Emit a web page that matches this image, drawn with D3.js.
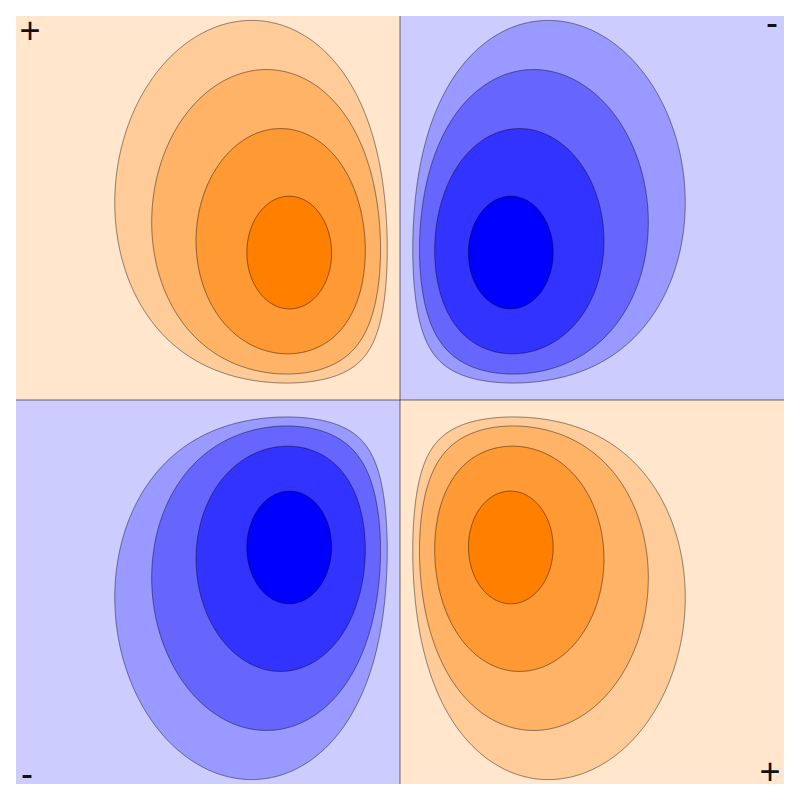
<!DOCTYPE html>
<html lang="en">
<head>
<meta charset="utf-8">
<title>Four-lobe contour map</title>
<style>
  body { margin: 0; background: #fff; }
  svg { display: block; }
  .sign { font-family: "Liberation Sans", Arial, sans-serif; font-size: 36px; fill: #111; }
  .lobe { stroke: #000; stroke-opacity: 0.5; stroke-width: 0.9; }
  .axis-line { stroke: #000; stroke-opacity: 0.55; stroke-width: 1; }
</style>
<script src="https://cdn.jsdelivr.net/npm/d3@7"></script>
</head>
<body>
<svg></svg>
<script>
// plot extent in data units (x is wider than y)
var xDomain = [-3.5, 3.5];
var yDomain = [-2.63, 2.63];
// four point sources (1/r field), one per quadrant
var sourceX = [-1, 1, -1, 1];
var sourceY = [1, 1, -1, -1];
var sourceQ = [1, -1, -1, 1];
// contour levels of the field (same for both signs)
var levels = [0.215, 0.336, 0.648, 1.94];
// corner labels: top-left, top-right, bottom-left, bottom-right
var quadrantSigns = ["+", "-", "-", "+"];

var margin = 16, size = 768;
var svg = d3.select("svg").attr("width", 800).attr("height", 800);

var x = d3.scaleLinear().domain(xDomain).range([margin, margin + size]);
var y = d3.scaleLinear().domain(yDomain).range([margin + size, margin]);

var orange = d3.interpolateRgb("#ffffff", "#ff8000");
var blue = d3.interpolateRgb("#ffffff", "#0000ff");

function field(u, v) {
    var s = 0;
    for (var k = 0; k < sourceQ.length; k++) {
        var dx = u - sourceX[k], dy = v - sourceY[k];
        s += sourceQ[k] / Math.sqrt(dx * dx + dy * dy);
    }
    return s;
}

// sample the field at pixel centres
var values = new Float64Array(size * size);
for (var j = 0; j < size; j++) {
    var v = y.invert(margin + j + 0.5);
    for (var i = 0; i < size; i++) {
        values[j * size + i] = field(x.invert(margin + i + 0.5), v);
    }
}

var contours = d3.contours().size([size, size]).thresholds(levels);
var posBands = contours(values);
var negBands = contours(values.map(function(d) { return -d; }));

var path = d3.geoPath(d3.geoIdentity().translate([margin, margin]));

// quadrant backgrounds coloured by sign
var quads = [
    {x0: xDomain[0], x1: 0, y0: yDomain[1], y1: 0},
    {x0: 0, x1: xDomain[1], y0: yDomain[1], y1: 0},
    {x0: xDomain[0], x1: 0, y0: 0, y1: yDomain[0]},
    {x0: 0, x1: xDomain[1], y0: 0, y1: yDomain[0]}
];
svg.selectAll(".quad")
    .data(quads)
    .enter().append("rect")
    .attr("class", "quad")
    .attr("x", function(d) { return x(d.x0); })
    .attr("y", function(d) { return y(d.y0); })
    .attr("width", function(d) { return x(d.x1) - x(d.x0); })
    .attr("height", function(d) { return y(d.y1) - y(d.y0); })
    .attr("fill", function(d, i) { return quadrantSigns[i] === "+" ? orange(0.2) : blue(0.2); });

svg.append("g").selectAll("path")
    .data(posBands)
    .enter().append("path")
    .attr("class", "lobe")
    .attr("d", path)
    .attr("fill", function(d, i) { return orange(0.2 * (i + 2)); });

svg.append("g").selectAll("path")
    .data(negBands)
    .enter().append("path")
    .attr("class", "lobe")
    .attr("d", path)
    .attr("fill", function(d, i) { return blue(0.2 * (i + 2)); });

// zero lines
svg.append("line").attr("class", "axis-line")
    .attr("x1", x(0)).attr("x2", x(0)).attr("y1", y(yDomain[1])).attr("y2", y(yDomain[0]));
svg.append("line").attr("class", "axis-line")
    .attr("x1", x(xDomain[0])).attr("x2", x(xDomain[1])).attr("y1", y(0)).attr("y2", y(0));

// corner signs (ink centred near each corner)
var corners = [
    {cx: margin + 14, cy: margin + 14},
    {cx: margin + size - 12, cy: margin + 9},
    {cx: margin + 11, cy: margin + size - 8},
    {cx: margin + size - 14, cy: margin + size - 13}
];
svg.selectAll(".sign")
    .data(corners)
    .enter().append("text")
    .attr("class", "sign")
    .attr("text-anchor", "middle")
    .attr("x", function(d) { return d.cx; })
    .attr("y", function(d, i) { return d.cy + (quadrantSigns[i] === "+" ? 13 : 9.8); })
    .text(function(d, i) { return quadrantSigns[i]; });
</script>
</body>
</html>
